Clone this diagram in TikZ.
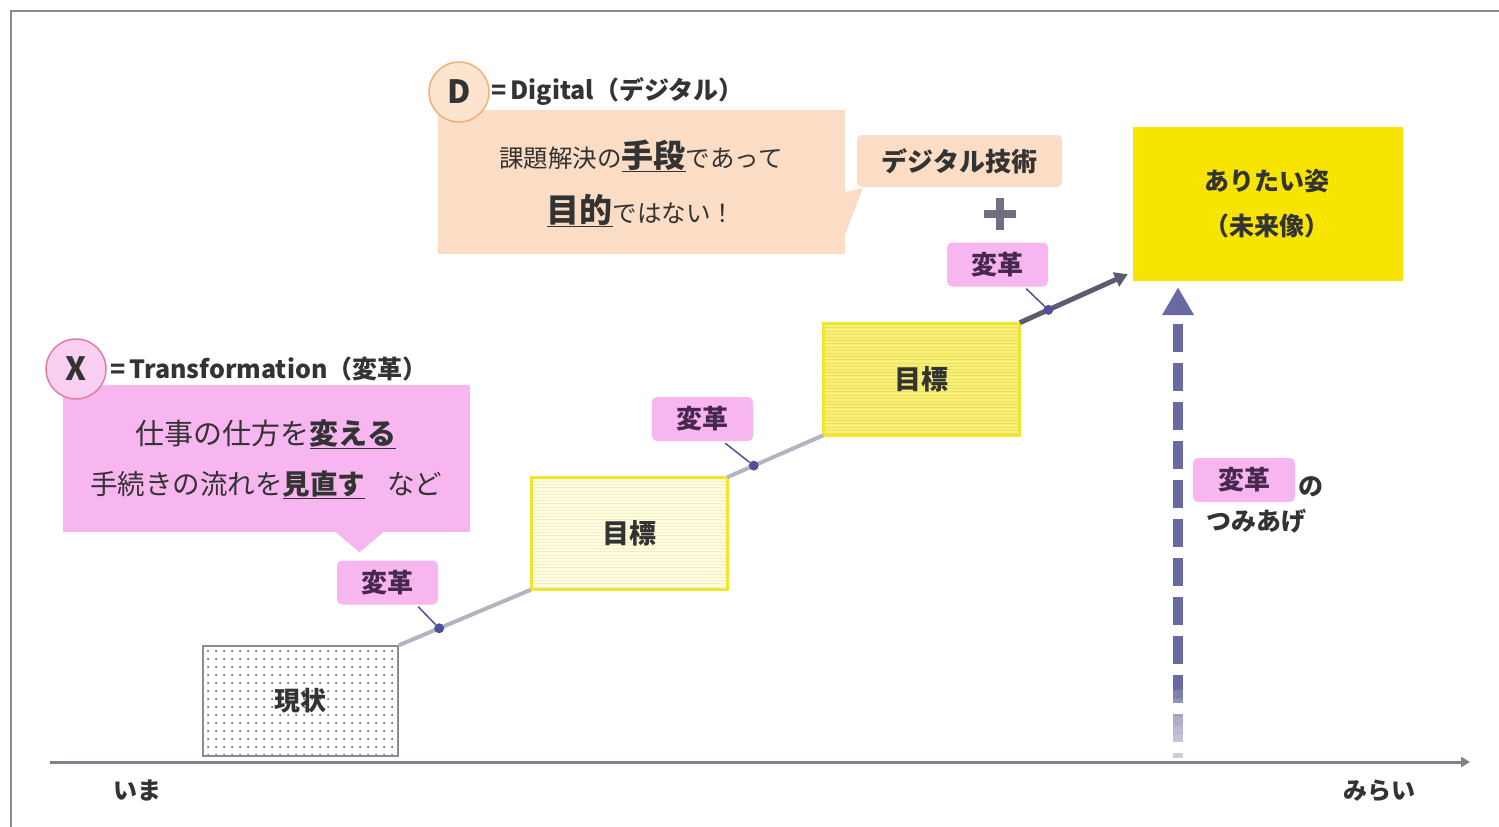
\documentclass[tikz,border=0pt]{standalone}
\usepackage{fontspec}
\setmainfont{Noto Sans CJK JP}
\usetikzlibrary{arrows.meta,patterns.meta,calc}
\newcommand\jfs[1]{\fontsize{#1}{#1}\selectfont}
\definecolor{framec}{HTML}{8C8C8C}
\definecolor{txt}{HTML}{333333}
\definecolor{pinkc}{HTML}{F8B6F1}
\definecolor{tagtxt}{HTML}{48284E}
\definecolor{peach}{HTML}{FBDCC4}
\definecolor{dcircf}{HTML}{FDE4CE}
\definecolor{dcircd}{HTML}{F0B07A}
\definecolor{xcircf}{HTML}{FAD0F2}
\definecolor{xcircd}{HTML}{E47CA2}
\definecolor{ylight}{HTML}{FEFCE4}
\definecolor{ylightl}{HTML}{F4EEB8}
\definecolor{ymid}{HTML}{F8F07C}
\definecolor{ymidl}{HTML}{EEE050}
\definecolor{yborder}{HTML}{F2E530}
\definecolor{ybright}{HTML}{F7E300}
\definecolor{linec}{HTML}{B4B4C0}
\definecolor{darkline}{HTML}{5C5C70}
\definecolor{dotc}{HTML}{50509A}
\definecolor{dashc}{HTML}{6A6AA2}
\definecolor{axisc}{HTML}{80808E}
\definecolor{plusc}{HTML}{707080}
\begin{document}
\begin{tikzpicture}[x=1pt,y=-1pt,
  tag/.style={fill=pinkc, rounded corners=5pt, minimum width=101pt, minimum height=44pt, inner sep=0pt, font=\jfs{26}\bfseries, text=tagtxt},
  goalbox/.style={minimum width=196pt, minimum height=112pt, inner sep=0pt, line width=3pt, draw=yborder, font=\jfs{27}\bfseries, text=txt},
  seg/.style={line width=4pt, linec},
  leader/.style={line width=1.5pt, dotc},
  pt/.style={circle, fill=dotc, inner sep=0pt, minimum size=10pt},
  plain/.style={inner sep=0pt, text=txt},
  circlab/.style={circle, minimum size=60pt, inner sep=0pt, line width=1.5pt, font=\jfs{32}\bfseries, text=txt}
]
\useasboundingbox (0,0) rectangle (1499,827);
% frame
\draw[framec, line width=2pt] (11,827) -- (11,11) -- (1499,11);

% boxes
\node[minimum width=195pt, minimum height=110pt, inner sep=0pt, draw=framec, line width=1.5pt,
  preaction={fill=white}, pattern={Dots[radius=1pt, distance=8pt]}, pattern color=black!70,
  font=\jfs{26}\bfseries, text=txt] (genjo) at (300.5,701) {現状};
\node[goalbox, preaction={fill=ylight}, pattern={Lines[angle=0, distance=3.2pt, line width=0.6pt]}, pattern color=ylightl] (goal1) at (629,533.5) {目標};
\node[goalbox, preaction={fill=ymid}, pattern={Lines[angle=0, distance=3.2pt, line width=0.7pt]}, pattern color=ymidl] (goal2) at (921.5,379) {目標};
\node[minimum width=270pt, minimum height=154pt, inner sep=0pt, preaction={fill=ybright},
  pattern={Dots[radius=0.5pt, distance=4pt]}, pattern color=white!60!ybright] (future) at (1268,204) {};
\node[plain, font=\jfs{25}\bfseries] (fut1) at (1267,181) {ありたい姿};
\node[plain, font=\jfs{25}\bfseries] (fut2) at (1267,226) {（未来像）};

% connectors
\draw[seg] (genjo.north east) -- (goal1.south west);
\draw[seg] (goal1.north east) -- (goal2.south west);
\coordinate (tip3) at ($(future.south west)+(-5,-7)$);
\draw[line width=5pt, darkline, -{Triangle[width=15pt,length=13pt]}] (goal2.north east) -- (tip3);

\node[pt] (dot1) at ($(genjo.north east)!0.306!(goal1.south west)$) {};
\node[pt] (dot2) at ($(goal1.north east)!0.276!(goal2.south west)$) {};
\node[pt] (dot3) at ($(goal2.north east)!0.264!(tip3)$) {};

\node[tag] (tag1) at (387.5,582.5) {変革};
\node[tag] (tag2) at (702.5,419) {変革};
\node[tag] (tag3) at (997.5,264.5) {変革};
\draw[leader] ($(tag1.south east)+(-20,2)$) -- (dot1);
\draw[leader] ($(tag2.south east)+(-28,2)$) -- (dot2);
\draw[leader] ($(tag3.south east)+(-22,2)$) -- (dot3);

% digital tech + plus
\node[fill=peach, rounded corners=5pt, minimum width=205pt, minimum height=52pt, inner sep=0pt,
  font=\jfs{26}\bfseries, text=txt] (digi) at (959.5,161) {デジタル技術};
\draw[plusc, line width=8pt] (984,214) -- (1016,214) (1000,198) -- (1000,230);

% D callout
\node[fill=peach, minimum width=407pt, minimum height=144pt, inner sep=0pt] (dbox) at (641.5,182) {};
\fill[peach] ($(dbox.east)+(-1,10)$) -- ($(digi.south west)+(6,1)$) -- ($(dbox.east)+(-1,55)$) -- cycle;
\node[plain, anchor=base] (dl1) at (641,167) {\jfs{24.5}課題解決の{\jfs{32}\bfseries\underline{手段}}であって};
\node[plain, anchor=base] (dl2) at (641,222) {{\jfs{33}\bfseries\underline{目的}}\jfs{24.5}ではない！};
\node[circlab, fill=dcircf, draw=dcircd] (dcirc) at (459,92) {D};
\node[plain, anchor=west, font=\jfs{25}\bfseries] (dtitle) at (491,92) {=\,Digital（デジタル）};

% X callout
\node[fill=pinkc, minimum width=407pt, minimum height=147pt, inner sep=0pt] (xbox) at (266.5,458.5) {};
\fill[pinkc] ($(xbox.south)+(68,-1)$) -- ($(tag1.north)+(-28,-8)$) -- ($(xbox.south)+(118,-1)$) -- cycle;
\node[plain, anchor=base] (xl1) at (266,444) {\jfs{29}仕事の仕方を{\bfseries\underline{変える}}};
\node[plain, anchor=base] (xl2) at (266,494) {\jfs{27.5}手続きの流れを{\bfseries\underline{見直す}}\hspace{0.8em}など};
\node[circlab, fill=xcircf, draw=xcircd] (xcirc) at (76,369) {X};
\node[plain, anchor=west, font=\jfs{25}\bfseries] (xtitle) at (110,369) {=\,Transformation（変革）};

% dashed accumulation arrow
\coordinate (dbase) at (1178,758);
\draw[dashc, line width=10pt, dash pattern=on 28pt off 11pt, dash phase=28pt,
  {Triangle[width=30pt,length=28pt]}-] ($(future.south -| dbase)+(0,6)$) -- (dbase);
\foreach \i in {0,...,6} {
  \fill[white, opacity=0.15] (1170,{690+\i*9}) rectangle (1186,758);
}
\node[tag, minimum width=102pt] (tag4) at (1244,480) {変革};
\node[plain, font=\jfs{25}\bfseries] (no) at (1311,487) {の};
\node[plain, font=\jfs{25}\bfseries] (tsumi) at (1256,521) {つみあげ};

% time axis
\coordinate (axs) at (50,762);
\coordinate (axe) at (1470,762);
\draw[axisc, line width=3pt, -{Triangle[width=10pt,length=9pt]}] (axs) -- (axe);
\node[plain, font=\jfs{24}\bfseries] (ima) at (137,791) {いま};
\node[plain, font=\jfs{24}\bfseries] (mirai) at (1379,791) {みらい};
\end{tikzpicture}
\end{document}
